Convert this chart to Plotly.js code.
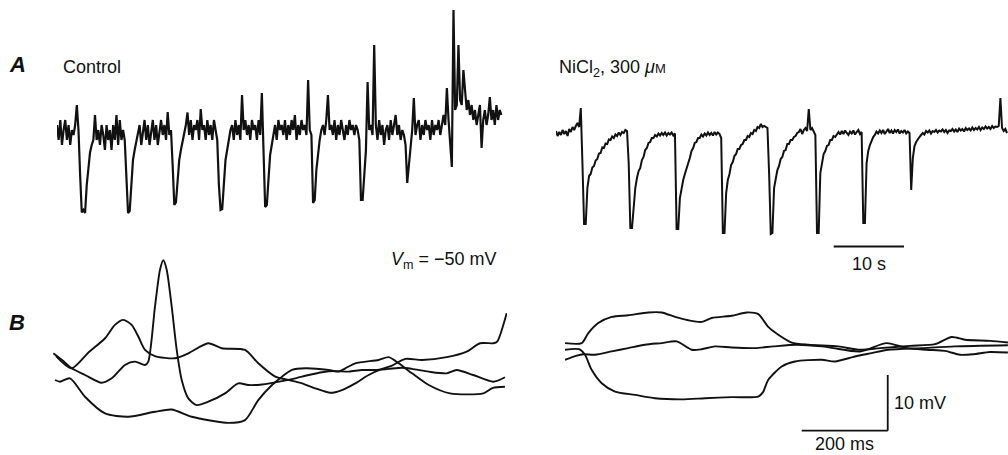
<!DOCTYPE html>
<html>
<head>
<meta charset="utf-8">
<script src="https://cdn.plot.ly/plotly-3.0.1.min.js"></script>
<style>html,body{margin:0;padding:0;background:#fff;}#chart{width:1008px;height:455px;}</style>
</head>
<body>
<div id="chart"></div>
<script>
// ---------- DATA ----------
// Panel A: membrane potential deflection (mV, relative to baseline), sampled every DT_A seconds
const DT_A = 0.235; // s per sample
const CONTROL_MV = [
 2, -1, 3, -2, 1, 3, -1, 2, -2, 1,
 0, 2, 6, 1, -8, -15.5, -15, -15.6, -10, -6,
 -3.5, -2, -1, 4, -1, 1, -2, 2, 0, -3,
 2, -1, 1, -3, 2, -1, 4, -2, 3, -1,
 1, -1, -9, -15.6, -15.2, -9, -5, -3, -1.5, 0,
 2, -2, 1, 3, -1, 2, -2, 1, 3, -1,
 2, -2, 1, 3, 0, 2, -1, 4.6, 0, 1,
 -6, -14, -13.5, -8, -5, -3, -1.5, 0, 2, 4.5,
 0, 3, -1, 2, 1, 3, -1, 5.2, 1, 2,
 -1, 3, 0, 2, -1, 3, 1, -1, -10, -15,
 -14.8, -9, -5, -3, -1, 1, 2, -1, 3, 0,
 2, -1, 8, 1, 3, 0, 2, -1, 3, 1,
 2, -1, 3, 0, 8.4, -3, -14.4, -14, -8, -4,
 -2, 0, 2, -1, 3, 1, 2, 0, 3, -1,
 2, 0, 3, 1, 4, -1, 2, 0, 3, 1,
 2, 0, 11, 1, 0, -13.6, -13, -7, -3.5, -1,
 1, 2, 0, 3, 8, 1, 2, 0, 3, -1,
 2, 0, 3, 1, -1, 2, 0, 3, 1, 2,
 0, 2, 1, -1, -13, -13, -8, -3, 10.6, 1,
 2, 0, 18, 2, -1, 3, 0, 2, -2, 1,
 2, -1, 3, 0, 2, 4, 0, 2, -1, 1,
 0, -2, -9.6, -6, -2, 1, 7.4, 0, 2, 3,
 -1, 2, 0, 3, 1, 2, -1, 3, 0, 2,
 1, 3, 0, 2, 4, 2, 9.4, 3, -2, -6.4,
 25, 5, 6, 18, 7, 6, 13, 8, 5, 7,
 4, 6, 3, 5, 2, 4, 6, -2.6, 3, 5,
 2, 4, 7.6, 3, 5, 2, 6, 3, 5, 4
];
const NICL_MV = [
 0.4, -0.6, 0.2, -0.4, 0.6, -0.2, 0.4, -0.6, 0.8, 0.2,
 1.2, 0.6, 1.4, 2, 1.2, 5, -6, -18.2, -18.2, -11,
 -8.6, -8.2, -6.9, -6.6, -5.5, -5.2, -4.1, -4, -2.9, -3,
 -2.1, -2.2, -1.3, -1.4, -0.7, -1, -0.3, -0.6, 0.1, -0.4,
 0.2, 0, 0.6, 0.4, -6, -19, -19, -14, -11, -9,
 -7.6, -7, -5.4, -4.8, -3.4, -3, -2, -1.8, -1, -1,
 -0.4, -0.7, -0.1, -0.5, 0, -0.4, 0.1, -0.5, 0, -0.3,
 0.1, -0.5, -0.1, -19.2, -19.2, -13, -11, -9.4, -8.2, -7.2,
 -5.8, -5, -3.6, -3, -2, -1.8, -1, -1, -0.3, -0.7,
 -0.1, -0.5, 0.1, -0.4, 0, -0.5, 0.2, -0.3, 0.1, -0.2,
 -1, -20, -20, -12, -9.4, -8.2, -6.4, -5.8, -4.6, -4.2,
 -3.2, -3.2, -2.4, -2.2, -1.4, -1.4, -0.6, -0.8, 0, -0.2,
 0.6, 0.4, 1.2, 1, 1.8, 1.2, 1.4, 1.2, 1, -8,
 -20.2, -20, -11, -9.2, -7.4, -6.6, -5.2, -4.8, -3.6, -3.4,
 -2.2, -2.2, -1.4, -1.4, -0.8, -0.6, 0, 0.2, 0.8, -0.2,
 0.6, 1, 0.4, 4.8, 0.6, 1, 0.2, -0.4, -20, -20,
 -8, -6.2, -4.2, -3.6, -2.6, -2.4, -1.4, -1.4, -0.6, -0.8,
 -0.4, 0.2, -0.3, 0.4, -0.2, 0.5, 0, -0.4, 0.3, -0.1,
 0.5, -0.3, 0.2, 0.6, -0.2, 0.2, -18, -18, -6, -3.6,
 -2.4, -1.6, -0.8, -0.4, 0.3, -0.1, 0.5, 0, 0.6, -0.2,
 0.4, 0.8, 0, 0.5, -0.1, 0.6, 0.2, 0.7, -0.1, 0.4,
 0.1, 0.6, -0.1, 0.3, 0, -11.4, -5, -2.6, -1.8, -1.2,
 -0.8, -0.4, 0, -0.3, 0.4, 0.1, 0.5, -0.1, 0.4, 0.2,
 0.6, 0.1, 0.5, 0.3, 0.7, 0.2, 0.6, 0, 0.5, 0.4,
 0.8, 0.3, 0.7, 0.2, 0.9, 0.5, 0.8, 0.3, 1, 0.6,
 0.9, 0.5, 1.1, 0.6, 1, 0.7, 1.2, 0.6, 1.1, 0.8,
 1.3, 0.9, 1.2, 0.8, 1.4, 1, 1.3, 1.2, 1.4, 7,
 1, 0.4, 0.8, 0
];

// Panel B, control (time ms, Vm mV)
const CTRL_SPIKE_T = [0.7, 21, 43.5, 74.4, 113, 136.5, 167.4, 190.7, 214, 221.6, 237.2, 248.8, 256.5, 264.4, 276, 287.7, 299.3, 314.7, 334.2, 361.2, 400, 431, 454.2, 486, 532.6, 563.5, 594.7, 625.6, 656.5, 687.7, 718.6, 749.5, 780.7, 811.6, 834.9, 873.7, 915.6, 938.8, 977.4, 1024, 1051];
const CTRL_SPIKE_V = [-47.0, -48.2, -49.7, -50.9, -52.3, -51.5, -49.1, -48.5, -49.1, -48.5, -38.6, -32.0, -30.3, -32.0, -38.6, -46.4, -51.8, -55.1, -56.3, -55.7, -54.2, -52.4, -52.7, -52.6, -52.0, -51.5, -50.9, -50.4, -50.2, -50.3, -50.0, -50.0, -49.8, -49.6, -49.8, -50.3, -50.6, -50.0, -50.9, -52.1, -51.3];
const CTRL_HUMP_T = [7, 43.5, 82, 121, 144, 163.5, 183, 198.4, 214, 237, 283.7, 314.7, 361, 392.3, 446.5, 477.4, 517, 548, 579, 610, 645, 672, 703, 734, 765, 788.4, 819.3, 858, 915.6, 962, 993, 1024, 1033, 1055];
const CTRL_HUMP_V = [-47.5, -49.7, -46.9, -44.3, -41.9, -41.0, -41.9, -44.0, -46.4, -47.5, -47.9, -47.0, -45.2, -46.1, -46.4, -48.8, -51.2, -51.8, -52.4, -53.3, -54.1, -53.6, -52.4, -50.9, -49.8, -49.2, -48.0, -48.2, -47.7, -46.7, -45.2, -45.2, -44.9, -39.8];
const CTRL_LOW_T = [4.7, 16.3, 39.5, 74.4, 121, 175, 237, 276, 322.5, 407.7, 446.5, 477.4, 509.3, 532.6, 555.8, 586.7, 641, 664.4, 679.8, 703, 757.4, 780.7, 804, 835, 873.7, 923.3, 1000.7, 1023, 1051];
const CTRL_LOW_V = [-51.8, -52.1, -51.5, -54.8, -57.8, -58.4, -57.5, -57.1, -58.4, -59.5, -59.0, -55.4, -52.7, -51.2, -50.0, -49.7, -50.0, -50.3, -49.7, -48.8, -48.2, -47.7, -48.8, -50.6, -52.7, -54.2, -54.2, -53.2, -53.0];

// Panel B, NiCl2 (time ms, Vm mV)
const NI_UP_T = [0, 38.8, 54.2, 77.4, 108.6, 147.2, 193.7, 224.9, 255.8, 286.7, 317.9, 341.2, 387.7, 422.6, 449.5, 472.8, 496, 527.2, 565.8, 635.6, 686, 732.6, 802.3, 860.5, 899.3, 930.2, 988.4, 1030];
const NI_UP_V = [-49.3, -49.3, -47.5, -45.7, -44.6, -44.3, -43.8, -43.8, -44.6, -45.2, -45.5, -44.8, -44.4, -43.8, -44.1, -46.4, -47.8, -49.2, -49.6, -49.9, -50.5, -50.2, -49.8, -49.5, -48.2, -48.7, -48.9, -49.2];
const NI_MID_T = [0, 25.6, 42.6, 69.8, 108.6, 147.2, 186, 224.9, 259.8, 294.7, 317.9, 348.8, 387.7, 441.9, 484.4, 538.8, 597, 624, 686, 748, 794.7, 841, 883.7, 918.6, 949.5, 988.4, 1030];
const NI_MID_V = [-52.3, -51.6, -51.3, -51.4, -50.8, -50.2, -49.6, -49.3, -49.0, -50.5, -50.4, -49.9, -50.1, -50.2, -49.9, -49.6, -49.9, -50.2, -50.8, -49.3, -50.2, -50.5, -50.7, -51.4, -51.3, -50.9, -51.0];
const NI_DOWN_T = [0, 32.6, 46.5, 62, 85.3, 116.3, 162.8, 209.3, 271.4, 325.6, 387.7, 449.5, 460.5, 472.8, 504, 534.9, 597, 628, 674.4, 713.3, 751.9, 829.5, 907, 1030];
const NI_DOWN_V = [-50.5, -50.4, -51.4, -54.1, -56.5, -58.0, -58.6, -59.2, -59.4, -59.2, -59.0, -58.9, -58.1, -55.9, -53.5, -52.6, -52.3, -52.6, -51.7, -51.1, -50.5, -50.2, -49.9, -49.7];

// Scale bars
const SCALE_A_S = 10;      // s
const SCALE_B_MS = 200;    // ms
const SCALE_B_MV = 10;     // mV

// ---------- LAYOUT HELPERS ----------
const W = 1008, H = 455;
const dx = (a, b) => [a / W, b / W];
const dy = (top, bottom) => [1 - bottom / H, 1 - top / H];
const sampleTimes = (arr, dt) => arr.map((_, i) => i * dt);

const ink = '#111';
const FONT = 'Liberation Sans, Arial, Helvetica, sans-serif';

const lineCtrl = {color: ink, width: 2.2};
const lineNi = {color: ink, width: 2.0};
const lineB = {color: ink, width: 1.9, shape: 'spline', smoothing: 0.7};

const traces = [
  {x: sampleTimes(CONTROL_MV, DT_A), y: CONTROL_MV, xaxis: 'x', yaxis: 'y', mode: 'lines', line: lineCtrl},
  {x: sampleTimes(NICL_MV, DT_A), y: NICL_MV, xaxis: 'x2', yaxis: 'y2', mode: 'lines', line: lineNi},
  {x: CTRL_SPIKE_T, y: CTRL_SPIKE_V, xaxis: 'x3', yaxis: 'y3', mode: 'lines', line: lineB},
  {x: CTRL_HUMP_T, y: CTRL_HUMP_V, xaxis: 'x3', yaxis: 'y3', mode: 'lines', line: lineB},
  {x: CTRL_LOW_T, y: CTRL_LOW_V, xaxis: 'x3', yaxis: 'y3', mode: 'lines', line: lineB},
  {x: NI_UP_T, y: NI_UP_V, xaxis: 'x4', yaxis: 'y4', mode: 'lines', line: lineB},
  {x: NI_MID_T, y: NI_MID_V, xaxis: 'x4', yaxis: 'y4', mode: 'lines', line: lineB},
  {x: NI_DOWN_T, y: NI_DOWN_V, xaxis: 'x4', yaxis: 'y4', mode: 'lines', line: lineB}
];

const hidden = {visible: false, showgrid: false, zeroline: false, fixedrange: true};

// A scale bar position (s, mV in NiCl2 panel coords)
const aBarX0 = 39.5, aBarY = -22.7;
// B scale bar corner (ms, mV in NiCl2 panel coords)
const bBarX = 750.5, bBarY = -65.03;

const layout = {
  width: W, height: H,
  margin: {l: 0, r: 0, t: 0, b: 0},
  paper_bgcolor: '#fff', plot_bgcolor: '#fff',
  showlegend: false,
  font: {family: FONT, color: ink, size: 18},
  xaxis:  Object.assign({domain: dx(57, 503), range: [0, 446 / 7.03], anchor: 'y'}, hidden),
  yaxis:  Object.assign({domain: dy(0, 230), range: [-19, 27], anchor: 'x'}, hidden),
  xaxis2: Object.assign({domain: dx(556, 1008), range: [0, 452 / 7.03], anchor: 'y2'}, hidden),
  yaxis2: Object.assign({domain: dy(0, 250), range: [-23.4, 26.6], anchor: 'x2'}, hidden),
  xaxis3: Object.assign({domain: dx(53, 507), range: [0, 1055.8], anchor: 'y3'}, hidden),
  yaxis3: Object.assign({domain: dy(250, 440), range: [-62.57, -28.46], anchor: 'x3'}, hidden),
  xaxis4: Object.assign({domain: dx(565, 1008), range: [0, 1030.2], anchor: 'y4'}, hidden),
  yaxis4: Object.assign({domain: dy(290, 440), range: [-66.70, -39.77], anchor: 'x4'}, hidden),
  shapes: [
    {type: 'line', xref: 'x2', yref: 'y2', x0: aBarX0, x1: aBarX0 + SCALE_A_S, y0: aBarY, y1: aBarY, line: {color: ink, width: 1.8}},
    {type: 'line', xref: 'x4', yref: 'y4', x0: bBarX - SCALE_B_MS, x1: bBarX, y0: bBarY, y1: bBarY, line: {color: ink, width: 1.8}},
    {type: 'line', xref: 'x4', yref: 'y4', x0: bBarX, x1: bBarX, y0: bBarY, y1: bBarY + SCALE_B_MV, line: {color: ink, width: 1.8}}
  ],
  annotations: [
    {xref: 'paper', yref: 'paper', x: 17 / W, y: 1 - 65 / H, text: '<b><i>A</i></b>', showarrow: false, xanchor: 'center', yanchor: 'middle', font: {size: 22}},
    {xref: 'paper', yref: 'paper', x: 17 / W, y: 1 - 322 / H, text: '<b><i>B</i></b>', showarrow: false, xanchor: 'center', yanchor: 'middle', font: {size: 22}},
    {xref: 'paper', yref: 'paper', x: 61 / W, y: 1 - 67 / H, text: 'Control', showarrow: false, xanchor: 'left', yanchor: 'middle', font: {size: 18}},
    {xref: 'paper', yref: 'paper', x: 557 / W, y: 1 - 68 / H, text: 'NiCl<sub>2</sub>, 300 <i>μ</i><span style="font-size:13px">M</span>', showarrow: false, xanchor: 'left', yanchor: 'middle', font: {size: 18}},
    {xref: 'paper', yref: 'paper', x: 499 / W, y: 1 - 260 / H, text: '<i>V</i><sub>m</sub> = −50 mV', showarrow: false, xanchor: 'right', yanchor: 'middle', font: {size: 18}},
    {xref: 'x2', yref: 'y2', x: aBarX0 + SCALE_A_S / 2, y: aBarY, text: '10 s', showarrow: false, xanchor: 'center', yanchor: 'top', yshift: -5, font: {size: 18}},
    {xref: 'x4', yref: 'y4', x: bBarX, y: bBarY + SCALE_B_MV / 2, text: '10 mV', showarrow: false, xanchor: 'left', yanchor: 'middle', xshift: 4, font: {size: 18}},
    {xref: 'x4', yref: 'y4', x: bBarX - SCALE_B_MS / 2, y: bBarY, text: '200 ms', showarrow: false, xanchor: 'center', yanchor: 'top', yshift: -1, font: {size: 18}}
  ]
};

Plotly.newPlot('chart', traces, layout, {staticPlot: true, displayModeBar: false});
</script>
</body>
</html>
